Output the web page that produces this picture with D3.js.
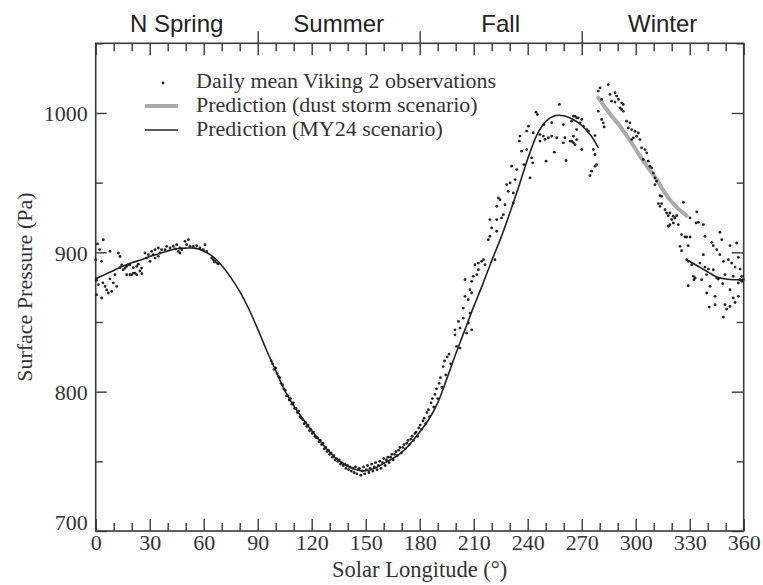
<!DOCTYPE html>
<html><head><meta charset="utf-8">
<script src="https://cdn.jsdelivr.net/npm/d3@7"></script>
<style>body{margin:0;background:#fff}</style>
</head><body>
<svg id="c" width="763" height="585"></svg>
<script>
// ---------- data ----------
const seasonNames = ["N Spring", "Summer", "Fall", "Winter"];
const seasonBounds = [0, 90, 180, 270, 360];
const xTickLabels = [0, 30, 60, 90, 120, 150, 180, 210, 240, 270, 300, 330, 360];
const xMinorTicks = [10, 20, 40, 50, 70, 80, 100, 110, 130, 140, 160, 170, 190, 200, 220, 230, 250, 260, 280, 290, 310, 320, 340, 350];
const yTickLabels = [700, 800, 900, 1000];
const yMinorTicks = [750, 850, 950, 1050];
const legendLabels = ["Daily mean Viking 2 observations", "Prediction (dust storm scenario)", "Prediction (MY24 scenario)"];

// MY24 prediction, Ls 0 -> ~279
const my24Ls = [0,5,10,15,20,25,30,35,40,45,50,55,60,65,70,75,80,85,90,95,100,105,110,115,120,125,130,135,140,145,150,155,160,165,170,175,180,185,190,195,200,205,210,215,220,225,230,235,240,245,250,255,260,265,270,275,279.3];
const my24P  = [881,884,887,890,892.5,894.5,897,899,901,902.5,903,903,901,897,890.5,882,872,859.5,845,829.5,815,801,790,780.5,772,764,756.5,750.5,746.5,744,743.2,745,748.5,752,756.5,763,771,780,792,809,827,844,861,877,894,910,928,947,967,984,994,998,998,995.5,991,984,975];
// MY24 prediction, late winter
const my24WinterLs = [328.3,332,336,340,345,350,355,360];
const my24WinterP  = [894.7,892,889,886,882.3,880.8,880.3,880.4];
// dust storm scenario
const dustLs = [279.2,285,291.3,297,302.4,307,311.7,315,319,323.5,328.3];
const dustP  = [1011,1000.5,990.5,980,969,960.5,952.2,945,937.8,931.5,926.3];

// Viking 2 daily mean observations [Ls, Pa]
const obs = [
[0,894.7],[0.5,880],[0.5,869.6],[1,906],[1.5,876.8],[2.2,902],[3.3,893.5],[3.3,867.2],[4,878],[4.2,909],[5.2,875.5],[6.1,873],[7,870.8],[7.9,900.7],[7.9,881],[8.9,872],[9.8,878],[10.7,884],[11.7,875.5],[12.6,899.5],[13.5,897],[13.5,889],[14.4,891],[15.3,887.5],[16.3,888.7],[17.2,890],[17.2,883.9],[18.1,891.1],[19,891],[19,883.9],[20,884],[20.9,889],[20.9,885.1],[21.8,885],[22.8,890],[22.8,883.9],[23.7,891.5],[24.6,886.6],[25.5,888.7],[25.6,884.7],
[27.4,899.5],[28.3,895.9],[29.2,898.3],[30.2,893.5],[31.1,900.7],[32,898.3],[33,901.9],[33,895.9],[34.8,903.1],[34.8,897.1],[35.7,899.5],[36.6,901.9],[38.5,901.9],[39.4,904.3],[41.3,903.1],[43.1,904.3],[44.1,902.4],[45,905.5],[45.9,900.7],[46.8,903.1],[46.8,899.5],[47.8,901.9],[49.6,907.9],[50.5,905.5],[51.5,909.1],[52.4,904.3],[54.2,904.3],[56.1,904.7],[57.9,903.1],[59.8,901.9],[60.7,905.5],[61.6,900.7],[64.4,895.9],[65.4,894.7],[65.8,893],[66.3,893.5],[67.4,892.3],[68.1,891.8],
[97.5,822],[98.3,820],[99.1,816],[100,817],[100.8,813],[101.5,811],[102.2,810],[103,806],[103.8,805],[104.5,802],[105.3,801],[106,797],[106.8,797],[107.5,794],[108.2,795],[109,791],[109.8,792],[110.5,788],[111.3,788],[112,785],[112.8,786],[113.5,782],[114.3,781],[115,780],[115.8,777],[116.5,778],[117.3,775],[118,776],[118.8,772],[119.5,773],[120.3,770],[121,771],[121.8,768],[122.5,767],[123.3,767],[124,764],[124.8,765],[125.5,762],[126.3,763],[127,759],[127.8,760],[128.5,757],[129.3,758],[130,755],[130.8,756],[131.5,753],[132.3,754],[133,751],[133.8,752],[134.5,750],[135.3,751],[136,748],[136.8,749],[137.5,747],[138.3,748],[139,745],[139.8,747],[140.5,744],[141.3,746],[142,743],[142.8,745],[143.5,742],[144.3,746],[145,741],[145.8,744],[146.5,745],[147.3,740],[148,743],[148.8,746],[149.5,741],[150.3,744],[151,747],[151.8,742],[152.5,745],[153.3,748],[154,743],[154.8,746],[155.5,749],[156.3,744],[157,747],[157.8,750],[158.5,745],[159.3,749],[160,752],[160.8,747],[161.5,751],[162.3,753],[163,749],[163.8,753],[164.5,755],[165.3,751],[166,755],[166.8,757],[167.5,754],[168.3,758],[169,760],[169.8,756],[170.5,760],[171.3,762],[172,759],[172.8,763],[173.5,765],[174.3,762],[175,766],[175.8,768],[176.5,765],[177.3,770],[178,771],[178.8,768],[179.5,774],[180.3,776],[181,773],[181.8,779],[182.5,781],[183.3,777],[184,785],[184.8,787],[185.5,782],[186.3,792],[187,795],[187.8,789],[188.5,798],[189.3,802],[190,795],[190.8,806],[191.5,810],[192.3,803],[193,818],[193.8,822],[194.5,812],[195.3,825],[196.3,827],[197.2,820],
[199.6,844.4],[199.6,840.8],[200.5,832.5],[201.5,850.4],[202.4,845.6],[202.4,831.3],[204.2,860],[204.2,852.8],[205.2,880.4],[205.2,868.4],[206.1,842],[207,866],[207,849.2],[207.9,873.2],[207.9,856.4],[208.9,879.2],[208.9,870.8],[208.9,844.4],[209.8,882.8],[210.7,891.1],[211.7,884],[212.6,892.3],[212.6,887.5],[214.4,893.5],[215.4,894.7],[216.3,891.1],[218.1,909.1],[219,923.5],[219,911.5],[220,917.5],[221.8,894.7],[222.8,933],[222.8,923.5],[222.8,915.1],[223.7,939],[224.6,937.8],[225.5,924.7],[226.5,927],[227.4,934.2],[228.3,948.6],[229.2,943.8],[230.2,949.8],[231.1,961.8],[232,942.6],[232,935.4],[233,952.2],[233.9,959.4],[235.4,979.8],[235.7,983.4],[236.6,972.6],[237.9,963],[239.4,987],[239.4,973.8],[240.4,990.5],[241.3,953.4],[242.2,967.8],[242.8,964.2],[243.1,985.8],[244.6,1000.6],[245.4,998.9],[246.8,984.5],[246.8,979.8],[248.7,983.4],[249,991.7],[249.6,981],[250.2,965.4],[251.5,982.2],[253.3,993],[253.3,983.4],[254.8,971.9],[256.1,982.2],[257.6,1006.1],[259.8,991.7],[259.8,978.6],[260.7,982.2],[261.3,965.9],[263.5,979.8],[264.4,994.1],[264.4,979.7],[265.4,997.7],[265.4,983.3],[265.4,978.6],[266.3,997.7],[266.3,977.3],[267.2,996.5],[267.2,988.1],[267.2,980.9],[268.1,996.5],[269,992.9],[270,995.3],[270,973.8],[270.9,990.5],[272.8,988.1],[273.7,986.9],[274.6,955.1],[275.5,958.2],[276.5,973.8],[277.4,983.8],[277.4,970.2],[277.4,961.8],[278.3,963],
[279.2,1015.7],[279.2,1001.3],[280.2,1018],[281.1,1009.7],[281.1,995.3],[282,992.9],[282.5,990],[284.8,1020.4],[285.7,1013.3],[286.6,1008.5],[288.5,1014.5],[288.5,1007.8],[289.4,1012.1],[290.4,1009.7],[291.3,1003.7],[292.2,1007.3],[292.2,1002.5],[293.1,1006.1],[293.1,1001.3],[295,994.1],[295.9,989.3],[296.8,992.9],[297.8,988.1],[297.8,980.9],[298.7,982.1],[299.6,986.9],[300.5,983.3],[301.5,985.7],[302.4,980.9],[303.3,975],[304.2,966.6],[305.2,973.7],[306.1,971.4],[307,965.4],[307.9,961.8],[308.9,960.6],[309.8,957],[310.7,953.4],[310.7,948.6],[311.6,951],[312.6,935],[313.5,940.7],[313.5,933],[314.4,940.2],[314.4,935],[316.3,930.6],[317.2,928.2],[318.1,926.3],[318.1,918.7],[319,928.2],[319,919.9],[320,923.5],[320.9,925.9],[320.9,921.1],[321.8,924.7],[322.8,926.3],[323.7,919.9],[324.6,904.3],[325.5,912.7],[325.5,901.2],[326.5,935.9],[327.4,911],[328.3,911],[328.3,894.7],[329.2,904.8],[329.2,893.5],[329.2,876],[330.2,924.7],[330.2,911],[331.1,891.1],[332,882.8],[332.4,880.4],[333,881.6],[333.5,921.1],[333.9,929],[334.8,921.5],[335.7,892.3],[336.6,880.4],[337.6,919.9],[337.6,898.3],[338.5,911.5],[338.5,889.4],[339.4,884],[339.4,870.8],[340.4,888],[340.9,860.7],[341.3,875.6],[342.2,907.2],[343.1,904.8],[343.1,887.5],[344.1,868.4],[344.1,862.4],[345,901.9],[345,881.6],[345.9,880.8],[346.8,914.4],[346.8,898.3],[347.8,909.1],[348.3,877.5],[348.7,893.5],[348.7,853.5],[349.6,884],[349.6,862.4],[350.5,859.3],[351.5,894.7],[352.4,904.8],[352.4,873.2],[352.4,861.2],[353.3,892.3],[354.2,882.8],[354.2,867.2],[355.2,889.4],[355.2,864],[356.1,906.7],[357,896.4],[357,878],[357,868.4],[357.9,880.4],[358,888],[358.9,882.8],[358.9,879.2],[359.8,880.4]
];

// ---------- chart ----------
const svg = d3.select("#c");
const L = 95.7, R = 743.7, T = 43.3, B = 531;
const x = d3.scaleLinear().domain([0, 360]).range([L, R]);
const y = d3.scaleLinear().domain([700, 1050]).range([B, T]);
const ink = "#3a3a3a";
const serif = "'Liberation Serif','Times New Roman',serif";

function styleAxis(g) {
  g.attr("font-family", null).attr("font-size", null);
  g.select(".domain").remove();
  g.selectAll(".tick line").attr("stroke", ink).attr("stroke-width", 1.4);
  g.selectAll(".tick text").attr("fill", "#333").style("font-family", serif).style("font-size", "22px");
}

// bottom
svg.append("g").attr("transform", `translate(0,${B})`)
  .call(d3.axisBottom(x).tickValues(xTickLabels).tickSizeInner(-12).tickSizeOuter(0).tickPadding(3).tickFormat(d3.format("d")))
  .call(styleAxis);
svg.append("g").attr("transform", `translate(0,${B})`)
  .call(d3.axisBottom(x).tickValues(xMinorTicks).tickSize(-8).tickFormat(""))
  .call(styleAxis);
// top
svg.append("g").attr("transform", `translate(0,${T})`)
  .call(d3.axisTop(x).tickValues(xTickLabels).tickSize(-12).tickFormat(""))
  .call(styleAxis);
svg.append("g").attr("transform", `translate(0,${T})`)
  .call(d3.axisTop(x).tickValues(xMinorTicks).tickSize(-8).tickFormat(""))
  .call(styleAxis);
svg.append("g").attr("transform", `translate(0,${T})`)
  .call(d3.axisTop(x).tickValues(seasonBounds.slice(1, 4)).tickSize(12).tickFormat(""))
  .call(styleAxis);
// left
const gl = svg.append("g").attr("transform", `translate(${L},0)`)
  .call(d3.axisLeft(y).tickValues(yTickLabels).tickSizeInner(-11).tickSizeOuter(0).tickPadding(8).tickFormat(d3.format("d")))
  .call(styleAxis);
gl.selectAll(".tick text").attr("dy", d => d === 700 ? "-0.05em" : "0.36em");
svg.append("g").attr("transform", `translate(${L},0)`)
  .call(d3.axisLeft(y).tickValues(yMinorTicks).tickSize(-7).tickFormat(""))
  .call(styleAxis);
// right
svg.append("g").attr("transform", `translate(${R},0)`)
  .call(d3.axisRight(y).tickValues(yTickLabels).tickSize(-12).tickFormat(""))
  .call(styleAxis);
svg.append("g").attr("transform", `translate(${R},0)`)
  .call(d3.axisRight(y).tickValues(yMinorTicks).tickSize(-7).tickFormat(""))
  .call(styleAxis);

// frame
svg.append("rect").attr("x", L).attr("y", T).attr("width", R - L).attr("height", B - T)
  .attr("fill", "none").attr("stroke", ink).attr("stroke-width", 1.6);

// season labels
svg.append("g").selectAll("text").data(seasonNames).join("text")
  .attr("x", (d, i) => x((seasonBounds[i] + seasonBounds[i + 1]) / 2))
  .attr("y", 32)
  .attr("text-anchor", "middle")
  .style("font-family", "'Liberation Sans',Arial,sans-serif")
  .style("font-size", "24px")
  .attr("fill", "#222")
  .text(d => d);

// axis titles
svg.append("text").attr("x", (L + R) / 2).attr("y", 577).attr("text-anchor", "middle")
  .style("font-family", serif).style("font-size", "22.5px").attr("fill", "#333")
  .text("Solar Longitude (°)");
svg.append("text").attr("transform", `translate(32,${(T + B) / 2}) rotate(-90)`).attr("text-anchor", "middle")
  .style("font-family", serif).style("font-size", "22px").attr("fill", "#333")
  .text("Surface Pressure (Pa)");

// lines
const line = d3.line().x(d => x(d[0])).y(d => y(d[1])).curve(d3.curveCatmullRom);
svg.append("path").datum(d3.zip(dustLs, dustP)).attr("d", line)
  .attr("fill", "none").attr("stroke", "#ababab").attr("stroke-width", 4).attr("stroke-linecap", "round");
svg.append("path").datum(d3.zip(my24Ls, my24P)).attr("d", line)
  .attr("fill", "none").attr("stroke", "#222").attr("stroke-width", 1.6);
svg.append("path").datum(d3.zip(my24WinterLs, my24WinterP)).attr("d", line)
  .attr("fill", "none").attr("stroke", "#222").attr("stroke-width", 1.6);

// observations
svg.append("g").selectAll("circle").data(obs).join("circle")
  .attr("cx", d => x(d[0])).attr("cy", d => y(d[1])).attr("r", 1.4).attr("fill", "#222");

// legend
const lg = svg.append("g");
const ly = [88, 112, 136];
lg.append("circle").attr("cx", 163).attr("cy", ly[0] - 5).attr("r", 1.4).attr("fill", "#222");
lg.append("line").attr("x1", 145).attr("x2", 178).attr("y1", ly[1] - 6).attr("y2", ly[1] - 6)
  .attr("stroke", "#ababab").attr("stroke-width", 4);
lg.append("line").attr("x1", 145).attr("x2", 178).attr("y1", ly[2] - 6).attr("y2", ly[2] - 6)
  .attr("stroke", "#222").attr("stroke-width", 1.6);
lg.selectAll("text").data(legendLabels).join("text")
  .attr("x", 196).attr("y", (d, i) => ly[i])
  .style("font-family", serif).style("font-size", "22px").attr("fill", "#333")
  .text(d => d);
</script>
</body></html>
